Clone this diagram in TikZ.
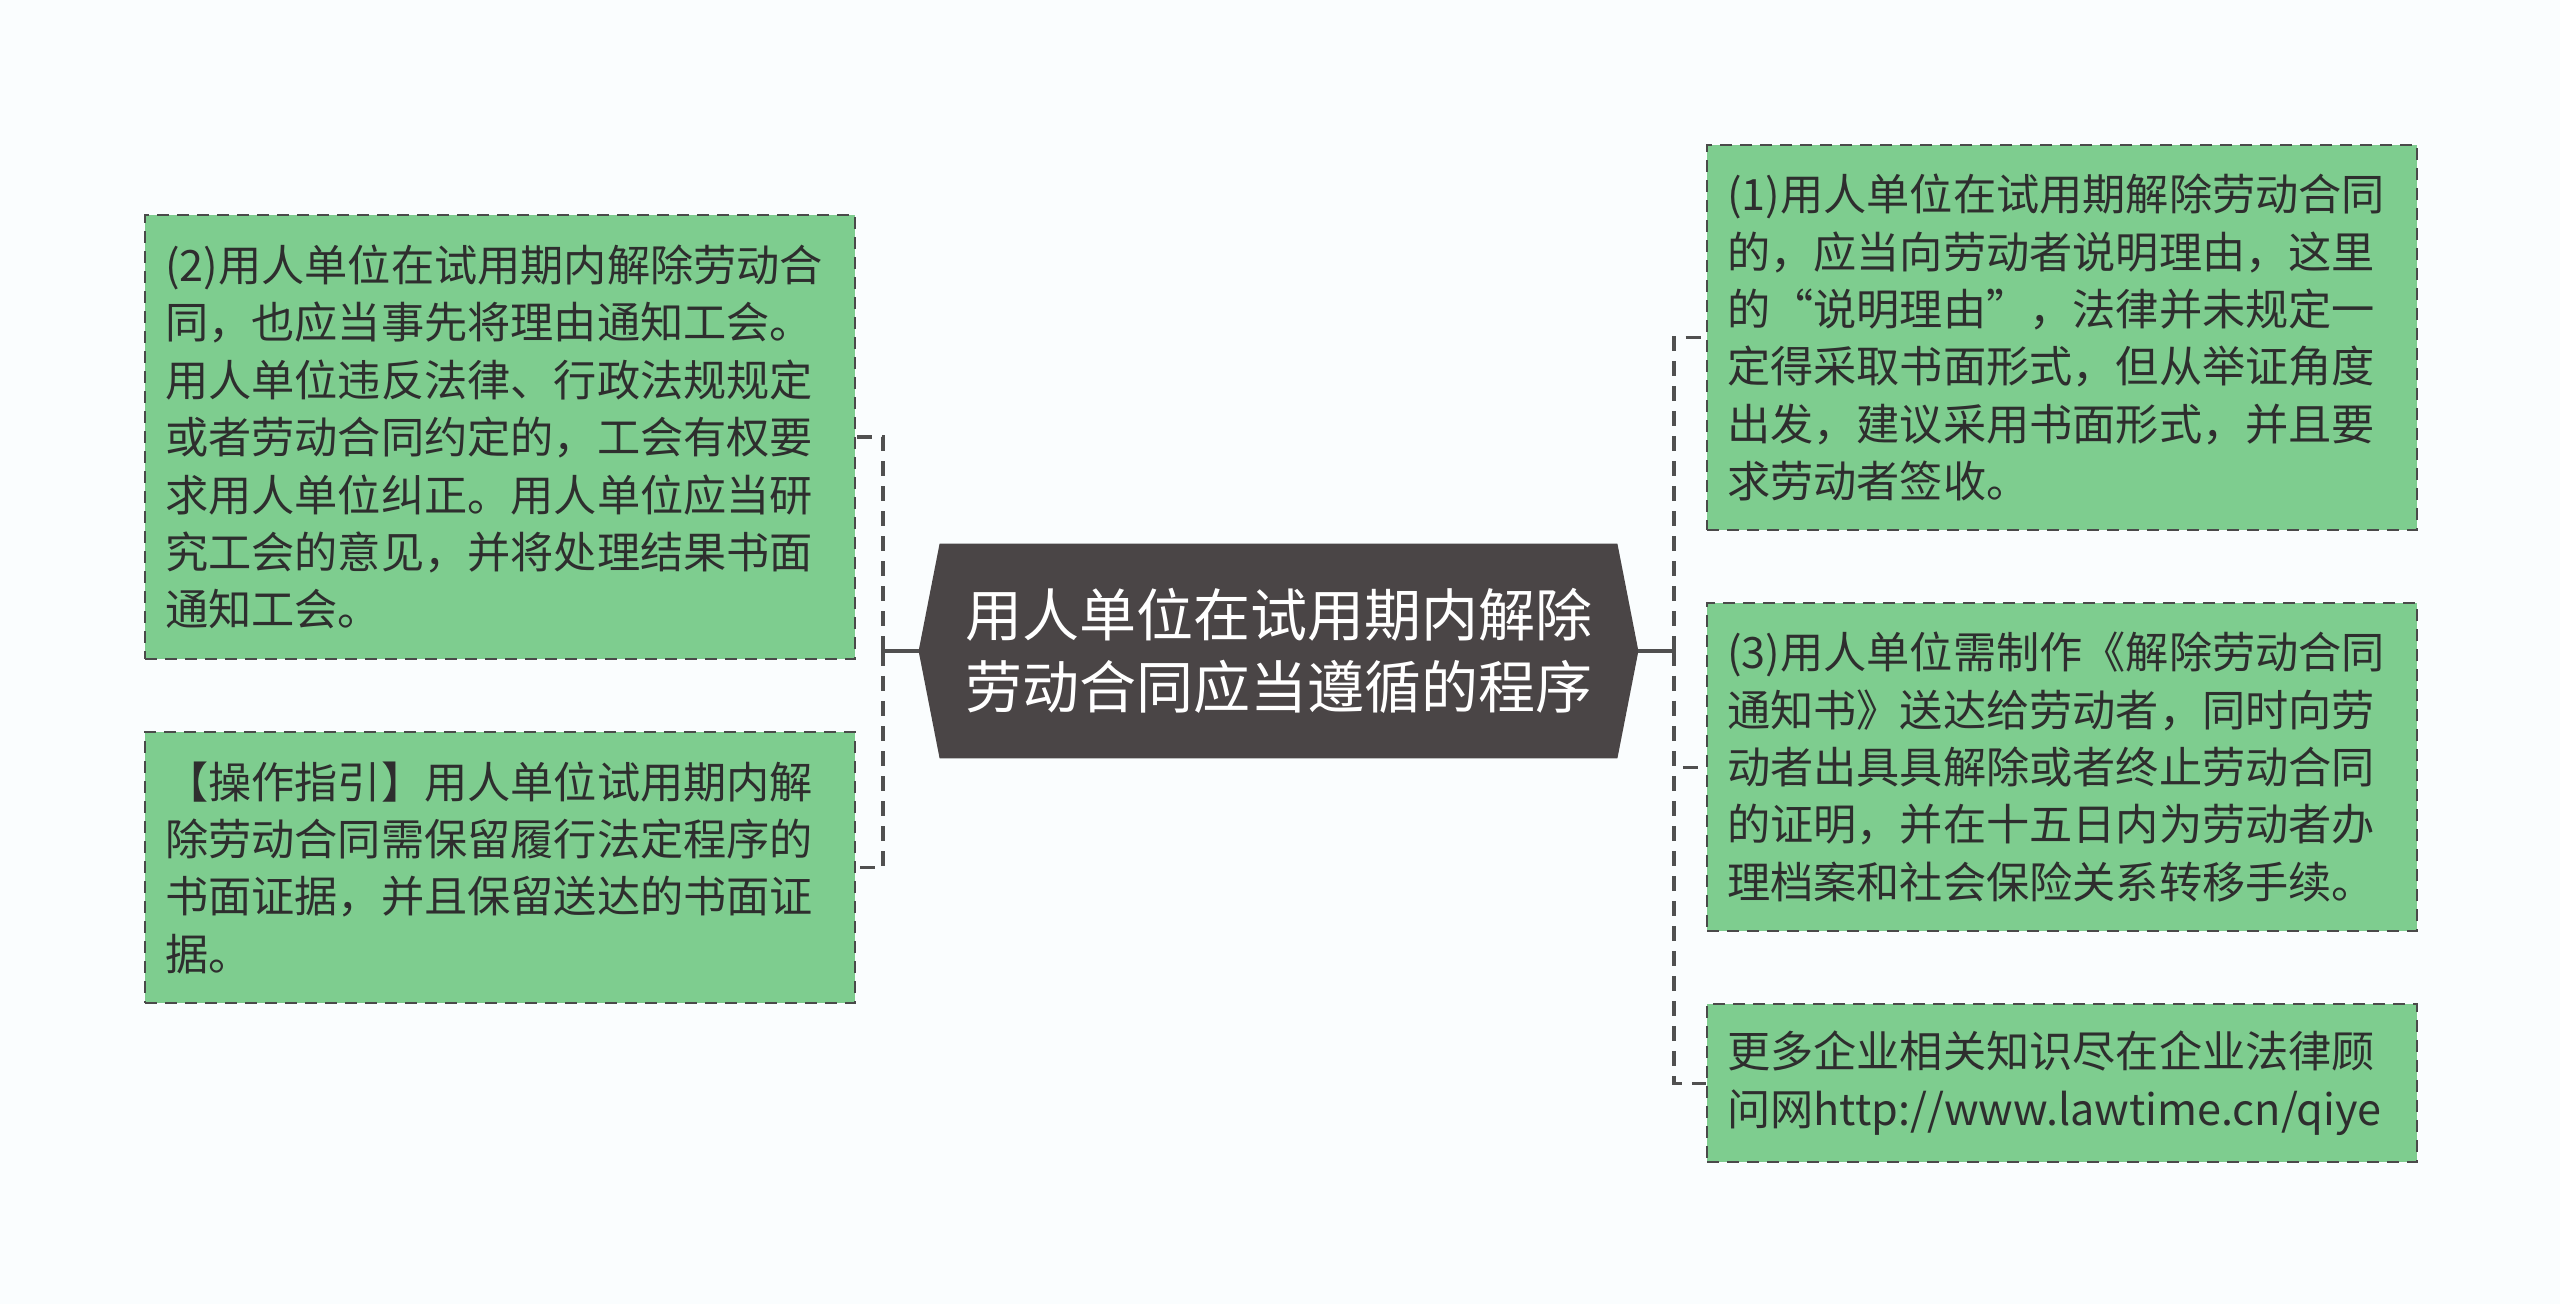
\documentclass[tikz,border=0pt]{standalone}
\usepackage{fontspec}
\setmainfont{Noto Sans CJK SC}
\usetikzlibrary{calc}
\definecolor{bg}{HTML}{FAFDFE}
\definecolor{boxfill}{HTML}{7ECD8F}
\definecolor{boxline}{HTML}{4A4A4A}
\definecolor{hexfill}{HTML}{4A4546}
\definecolor{txt}{HTML}{2E2E2E}
\definecolor{connc}{HTML}{505050}
\begin{document}
\begin{tikzpicture}[x=0.5pt,y=-0.5pt,
  leaf/.style={draw=boxline, fill=boxfill, dash pattern=on 6pt off 4pt, line width=1.1pt,
    minimum width=355pt, text width=335pt, inner xsep=10pt, inner ysep=0pt,
    align=left, font=\fontsize{21.6}{28.7}\selectfont, text=txt, anchor=north west},
  hubtext/.style={minimum width=338.5pt, minimum height=107pt, inner sep=0pt,
    align=center, text=white, font=\fontsize{28.5}{36}\selectfont},
  stub/.style={draw=connc, line width=1.6pt},
  dconn/.style={draw=connc, line width=1.6pt, dash pattern=on 7.5pt off 5pt}]
\useasboundingbox (0,0) rectangle (2560,1304);
\fill[bg] (0,0) rectangle (2560,1304);

% hub
\node[hubtext] (hubbox) at (1278.5,651) {};
\fill[hexfill] (hubbox.north west) -- (hubbox.north east) -- ($(hubbox.east)+(21,0)$) coordinate (cR)
  -- (hubbox.south east) -- (hubbox.south west) -- ($(hubbox.west)+(-21,0)$) coordinate (cL) -- cycle;
\node[hubtext] (hub) at (1278.5,651) {用人单位在试用期内解除\\劳动合同应当遵循的程序};

% left leaves
\node[leaf, minimum height=222pt] (L1) at (144,214) {(2)用人单位在试用期内解除劳动合\\同，也应当事先将理由通知工会。\\用人单位违反法律、行政法规规定\\或者劳动合同约定的，工会有权要\\求用人单位纠正。用人单位应当研\\究工会的意见，并将处理结果书面\\通知工会。};
\node[leaf, minimum height=135.5pt] (L2) at (144,731) {【操作指引】用人单位试用期内解\\除劳动合同需保留履行法定程序的\\书面证据，并且保留送达的书面证\\据。};

% right leaves
\node[leaf, minimum height=192.5pt] (R1) at (1706,144) {(1)用人单位在试用期解除劳动合同\\的，应当向劳动者说明理由，这里\\的“说明理由”，法律并未规定一\\定得采取书面形式，但从举证角度\\出发，建议采用书面形式，并且要\\求劳动者签收。};
\node[leaf, minimum height=164pt] (R2) at (1706,602) {(3)用人单位需制作《解除劳动合同\\通知书》送达给劳动者，同时向劳\\动者出具具解除或者终止劳动合同\\的证明，并在十五日内为劳动者办\\理档案和社会保险关系转移手续。};
\node[leaf, minimum height=79pt] (R3) at (1706,1003) {更多企业相关知识尽在企业法律顾\\问网http://www.lawtime.cn/qiye};

% connectors
\coordinate (jL) at (883,651);
\coordinate (jR) at (1674,651);
\draw[stub] (cL) -- (jL);
\draw[stub] (cR) -- (jR);
\draw[dconn] (jL) |- (L1.east);
\draw[dconn] (jL) |- (L2.east);
\draw[dconn] (jR) |- (R1.west);
\draw[dconn] (jR) |- (R2.west);
\draw[dconn] (jR) |- (R3.west);
\end{tikzpicture}
\end{document}
